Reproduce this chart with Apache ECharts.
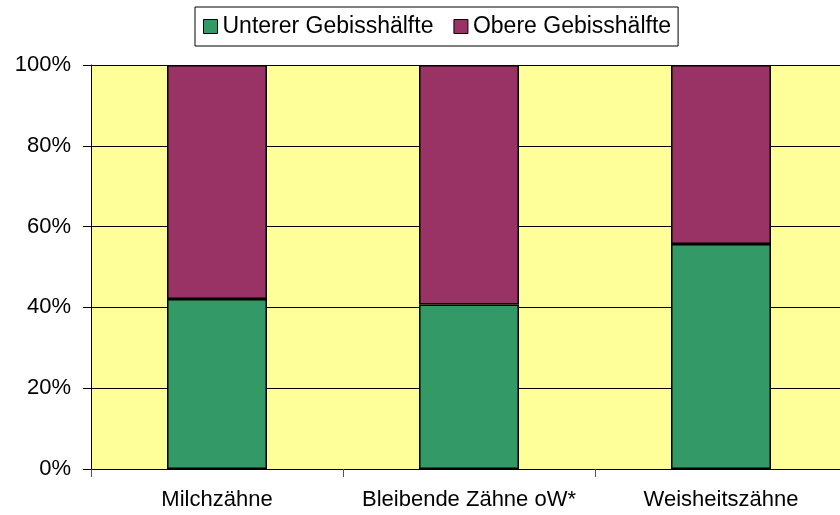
<!DOCTYPE html>
<html>
<head>
<meta charset="utf-8">
<script src="https://cdn.jsdelivr.net/npm/echarts@6/dist/echarts.min.js"></script>
<style>html,body{margin:0;padding:0;background:#fff;overflow:hidden;width:840px;height:515px;}#c{width:850px;height:515px;}</style>
</head>
<body>
<div id="c"></div>
<script>
const categories = ['Milchzähne', 'Bleibende Zähne oW*', 'Weisheitszähne'];
const seriesNames = ['Unterer Gebisshälfte', 'Obere Gebisshälfte'];
const lowerHalf = [42.1, 40.7, 55.7];
const upperHalf = [57.9, 59.3, 44.3];
const yTicks = [0, 20, 40, 60, 80, 100];

const FONT = '"Liberation Sans", Arial, sans-serif';
const chart = echarts.init(document.getElementById('c'), null, {renderer: 'canvas'});
chart.setOption({
  animation: false,
  backgroundColor: '#ffffff',
  textStyle: {fontFamily: FONT},
  legend: {
    left: 195, top: 7,
    data: seriesNames,
    icon: 'rect',
    itemWidth: 14, itemHeight: 14,
    itemGap: 20,
    padding: [8, 7, 8, 8],
    borderColor: '#000', borderWidth: 1,
    textStyle: {fontFamily: FONT, fontSize: 23, color: '#000', lineHeight: 21},
    itemStyle: {borderColor: '#000', borderWidth: 1}
  },
  grid: {
    left: 91, top: 65, width: 756, height: 404,
    show: true, backgroundColor: '#FFFF99', borderWidth: 0
  },
  xAxis: {
    type: 'category',
    data: categories,
    axisLine: {lineStyle: {color: '#000', width: 1}},
    axisTick: {show: true, length: 8, lineStyle: {color: '#555'}},
    axisLabel: {fontFamily: FONT, fontSize: 22, color: '#000', margin: 20, interval: 0}
  },
  yAxis: {
    type: 'value',
    min: yTicks[0], max: yTicks[yTicks.length - 1], interval: 20,
    axisLine: {show: true, lineStyle: {color: '#000', width: 1}},
    axisTick: {show: true, length: 8, lineStyle: {color: '#000'}},
    axisLabel: {fontFamily: FONT, fontSize: 22, color: '#000', margin: 20, formatter: '{value}%'},
    splitLine: {show: true, lineStyle: {color: '#000', width: 1}}
  },
  series: [
    {
      name: seriesNames[0], type: 'bar', stack: 'a', data: lowerHalf, barWidth: 100,
      itemStyle: {color: '#339966', borderColor: '#000', borderWidth: 1.5}
    },
    {
      name: seriesNames[1], type: 'bar', stack: 'a', data: upperHalf, barWidth: 100,
      itemStyle: {color: '#993366', borderColor: '#000', borderWidth: 1.5}
    }
  ]
});
</script>
</body>
</html>
